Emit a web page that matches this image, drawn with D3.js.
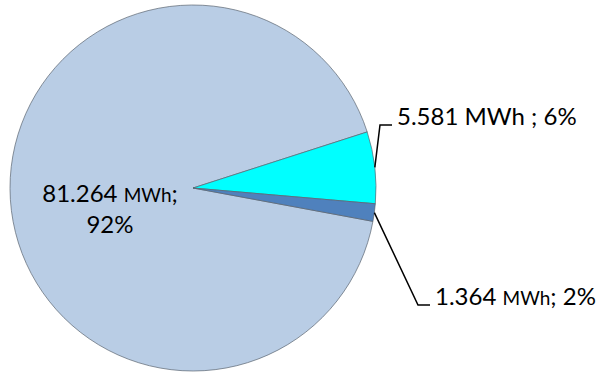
<!DOCTYPE html>
<html>
<head>
<meta charset="utf-8">
<script src="https://cdn.jsdelivr.net/npm/d3@7"></script>
<style>
  html, body { margin: 0; padding: 0; background: #fff; }
  svg { display: block; }
</style>
</head>
<body>
<svg id="chart" width="600" height="374"></svg>
<script>
// ---- data ----
const categories = ["A", "B", "C"];
const values = [81.264, 5.581, 1.364];        // MWh
const valueLabels = ["81.264", "5.581", "1.364"];
const percentLabels = ["92%", "6%", "2%"];
const colors = ["#B9CDE5", "#00FFFF", "#4F81BD"];

// ---- layout ----
const W = 600, H = 374;
const cx = 193, cy = 188, R = 183;
const startDeg = 100.5;
const fontFam = "Lato, 'Open Sans', sans-serif";
const fs = 24, fsSmall = 19;

const svg = d3.select("#chart");
const g = svg.append("g").attr("transform", `translate(${cx},${cy})`);

const pie = d3.pie().sort(null).value(d => d)
  .startAngle(startDeg * Math.PI / 180)
  .endAngle(startDeg * Math.PI / 180 + 2 * Math.PI);
const arcs = pie(values);
const arc = d3.arc().innerRadius(0).outerRadius(R);

g.selectAll("path.slice").data(arcs).enter().append("path")
  .attr("class", "slice")
  .attr("d", arc)
  .attr("fill", (d, i) => colors[i])
  .attr("stroke", "#5a6470")
  .attr("stroke-width", 0.7)
  .attr("stroke-linejoin", "round");

// point on the rim at the slice mid angle
function rim(d) {
  const a = (d.startAngle + d.endAngle) / 2;
  return [cx + R * Math.sin(a), cy - R * Math.cos(a)];
}

// outside labels (slices 1 and 2) with leader lines
const outside = [
  { i: 1, elbow: [380, 125], end: [392, 125], tx: 397, ty: 125, unitSmall: false, sep: " ; " },
  { i: 2, elbow: [418, 305], end: [430, 305], tx: 435, ty: 305, unitSmall: true, sep: "; " }
];

outside.forEach(o => {
  const p0 = rim(arcs[o.i]);
  svg.append("polyline")
    .attr("points", [p0, o.elbow, o.end].map(p => p.join(",")).join(" "))
    .attr("fill", "none")
    .attr("stroke", "#000")
    .attr("stroke-width", 1.5);
  const t = svg.append("text")
    .attr("x", o.tx).attr("y", o.ty)
    .attr("font-family", fontFam)
    .attr("font-size", fs)
    .attr("fill", "#000");
  t.append("tspan").text(valueLabels[o.i] + " ");
  t.append("tspan").attr("font-size", o.unitSmall ? fsSmall : fs).text("MWh");
  t.append("tspan").text(o.sep + percentLabels[o.i]);
});

// inside label for the big slice
const inner = svg.append("text")
  .attr("font-family", fontFam)
  .attr("font-size", fs)
  .attr("fill", "#000")
  .attr("text-anchor", "middle");
const l1 = inner.append("tspan").attr("x", 110).attr("y", 202);
l1.append("tspan").text(valueLabels[0] + " ");
l1.append("tspan").attr("font-size", fsSmall).text("MWh");
l1.append("tspan").text(";");
inner.append("tspan").attr("x", 110).attr("y", 233).text(percentLabels[0]);
</script>
</body>
</html>
